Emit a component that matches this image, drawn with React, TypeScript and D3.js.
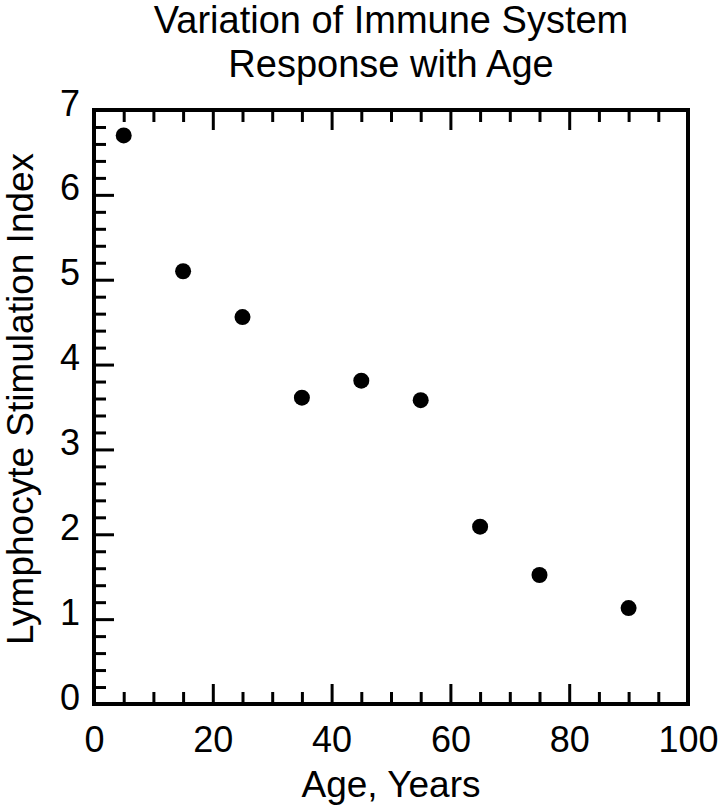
import React, { useEffect, useRef } from 'react';
import * as d3 from 'd3';

// data
const ages = [5, 15, 25, 35, 45, 55, 65, 75, 90];
const stimulationIndex = [6.7, 5.1, 4.56, 3.61, 3.81, 3.58, 2.09, 1.52, 1.13];
const xTicks = [0, 20, 40, 60, 80, 100];
const yTicks = [0, 1, 2, 3, 4, 5, 6, 7];
const titleLines = ['Variation of Immune System', 'Response with Age'];

const width = 720;
const height = 810;
const marginTop = 110;
const marginRight = 32;
const marginBottom = 106;
const marginLeft = 94;
const font = '"Liberation Sans", Arial, sans-serif';

const App = () => {
    const svgRef = useRef<SVGSVGElement>(null);

    useEffect(() => {
        document.body.style.margin = '0';
        const svg = d3.select(svgRef.current);
        svg.selectAll('*').remove();

        const x = d3.scaleLinear()
            .domain([0, 100])
            .range([marginLeft, width - marginRight]);
        const y = d3.scaleLinear()
            .domain([0, 7])
            .range([height - marginBottom, marginTop]);

        const xMinor = d3.range(0, 101, 5).filter(d => d % 20 !== 0);
        const yMinor = d3.range(0, 7.01, 0.2).map(d => +d.toFixed(1)).filter(d => d % 1 !== 0);

        const styleTicks = (g) => {
            g.select('.domain').remove();
            g.selectAll('.tick line').attr('stroke', '#000').attr('stroke-width', 3);
            g.selectAll('text')
                .attr('font-family', font)
                .attr('font-size', 36)
                .attr('fill', '#000');
        };

        // bottom
        svg.append('g')
            .attr('transform', `translate(0,${height - marginBottom})`)
            .call(d3.axisBottom(x).tickValues(xTicks).tickSize(-20).tickPadding(22))
            .call(styleTicks);
        svg.append('g')
            .attr('transform', `translate(0,${height - marginBottom})`)
            .call(d3.axisBottom(x).tickValues(xMinor).tickSize(-12).tickFormat(() => ''))
            .call(styleTicks);
        // top
        svg.append('g')
            .attr('transform', `translate(0,${marginTop})`)
            .call(d3.axisTop(x).tickValues(xTicks).tickSize(-20).tickFormat(() => ''))
            .call(styleTicks);
        svg.append('g')
            .attr('transform', `translate(0,${marginTop})`)
            .call(d3.axisTop(x).tickValues(xMinor).tickSize(-12).tickFormat(() => ''))
            .call(styleTicks);
        // left
        svg.append('g')
            .attr('transform', `translate(${marginLeft},0)`)
            .call(d3.axisLeft(y).tickValues(yTicks).tickSize(-20).tickPadding(14).tickFormat(d3.format('d')))
            .call(styleTicks)
            .call(g => g.selectAll('text').attr('dy', '0.14em'));
        svg.append('g')
            .attr('transform', `translate(${marginLeft},0)`)
            .call(d3.axisLeft(y).tickValues(yMinor).tickSize(-12).tickFormat(() => ''))
            .call(styleTicks);

        // frame
        svg.append('rect')
            .attr('x', marginLeft)
            .attr('y', marginTop)
            .attr('width', width - marginLeft - marginRight)
            .attr('height', height - marginTop - marginBottom)
            .attr('fill', 'none')
            .attr('stroke', '#000')
            .attr('stroke-width', 4);

        // points
        svg.append('g')
            .selectAll('circle')
            .data(ages.map((a, i) => [a, stimulationIndex[i]]))
            .join('circle')
            .attr('cx', d => x(d[0]))
            .attr('cy', d => y(d[1]))
            .attr('r', 8)
            .attr('fill', '#000');

        const cx = (marginLeft + width - marginRight) / 2;

        // title
        svg.append('g')
            .selectAll('text')
            .data(titleLines)
            .join('text')
            .attr('x', cx)
            .attr('y', (d, i) => 33 + i * 44)
            .attr('text-anchor', 'middle')
            .attr('font-family', font)
            .attr('font-size', 38)
            .text(d => d);

        // axis titles
        svg.append('text')
            .attr('x', cx)
            .attr('y', 797)
            .attr('text-anchor', 'middle')
            .attr('font-family', font)
            .attr('font-size', 37)
            .text('Age, Years');

        svg.append('text')
            .attr('transform', `translate(33,${(marginTop + height - marginBottom) / 2 - 8}) rotate(-90)`)
            .attr('text-anchor', 'middle')
            .attr('font-family', font)
            .attr('font-size', 37)
            .text('Lymphocyte Stimulation Index');
    }, []);

    return (
        <svg ref={svgRef} width={width} height={height} viewBox={`0 0 ${width} ${height}`} style={{ display: 'block' }}></svg>
    );
};

export default App;
